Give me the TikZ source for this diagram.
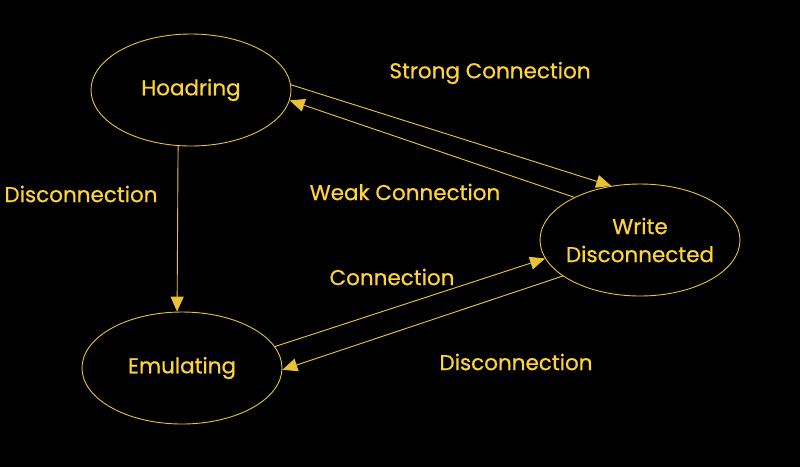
\documentclass[tikz,border=0pt]{standalone}
\usepackage{fontspec}
\setmainfont{Poppins}[FakeBold=0.6]
\usetikzlibrary{arrows.meta,positioning,shapes.geometric}
\definecolor{Ink}{HTML}{FFD43B}
\definecolor{Pen}{HTML}{E8C136}

\begin{document}
\begin{tikzpicture}[x=1pt,y=-1pt,font=\fontsize{21.5}{28}\selectfont,>={Triangle[length=15pt,width=13pt]},
  every node/.style={align=center,text=Ink},
  state/.style={draw=Pen,ellipse,line width=0.9pt,minimum width=200pt,minimum height=112pt,inner sep=-7pt},
  link/.style={->,draw=Pen,fill=Pen,line width=0.9pt}]
  \fill[black] (0,0) rectangle (800,467);
  \node[state] (hoad) at (191,90) {Hoadring};
  \node[state] (write) at (640,240) {Write\\Disconnected};
  \node[state] (emu) at (182,368) {Emulating};
  \draw[link](hoad.3)--(write.118);\draw[link](write.147)--(hoad.354);
  \draw[link](hoad.257)--(emu.95);
  \draw[link](emu.13)--(write.191);\draw[link](write.205)--(emu.359);
  \node (strong) at (490,73) {Strong Connection};
  \node (weak) at (405,192) {Weak Connection};
  \node (disc) at (81,194) {Disconnection};
  \node (conn) at (392,277) {Connection};
  \node (disc2) at (516,362) {Disconnection};
\end{tikzpicture}
\end{document}
